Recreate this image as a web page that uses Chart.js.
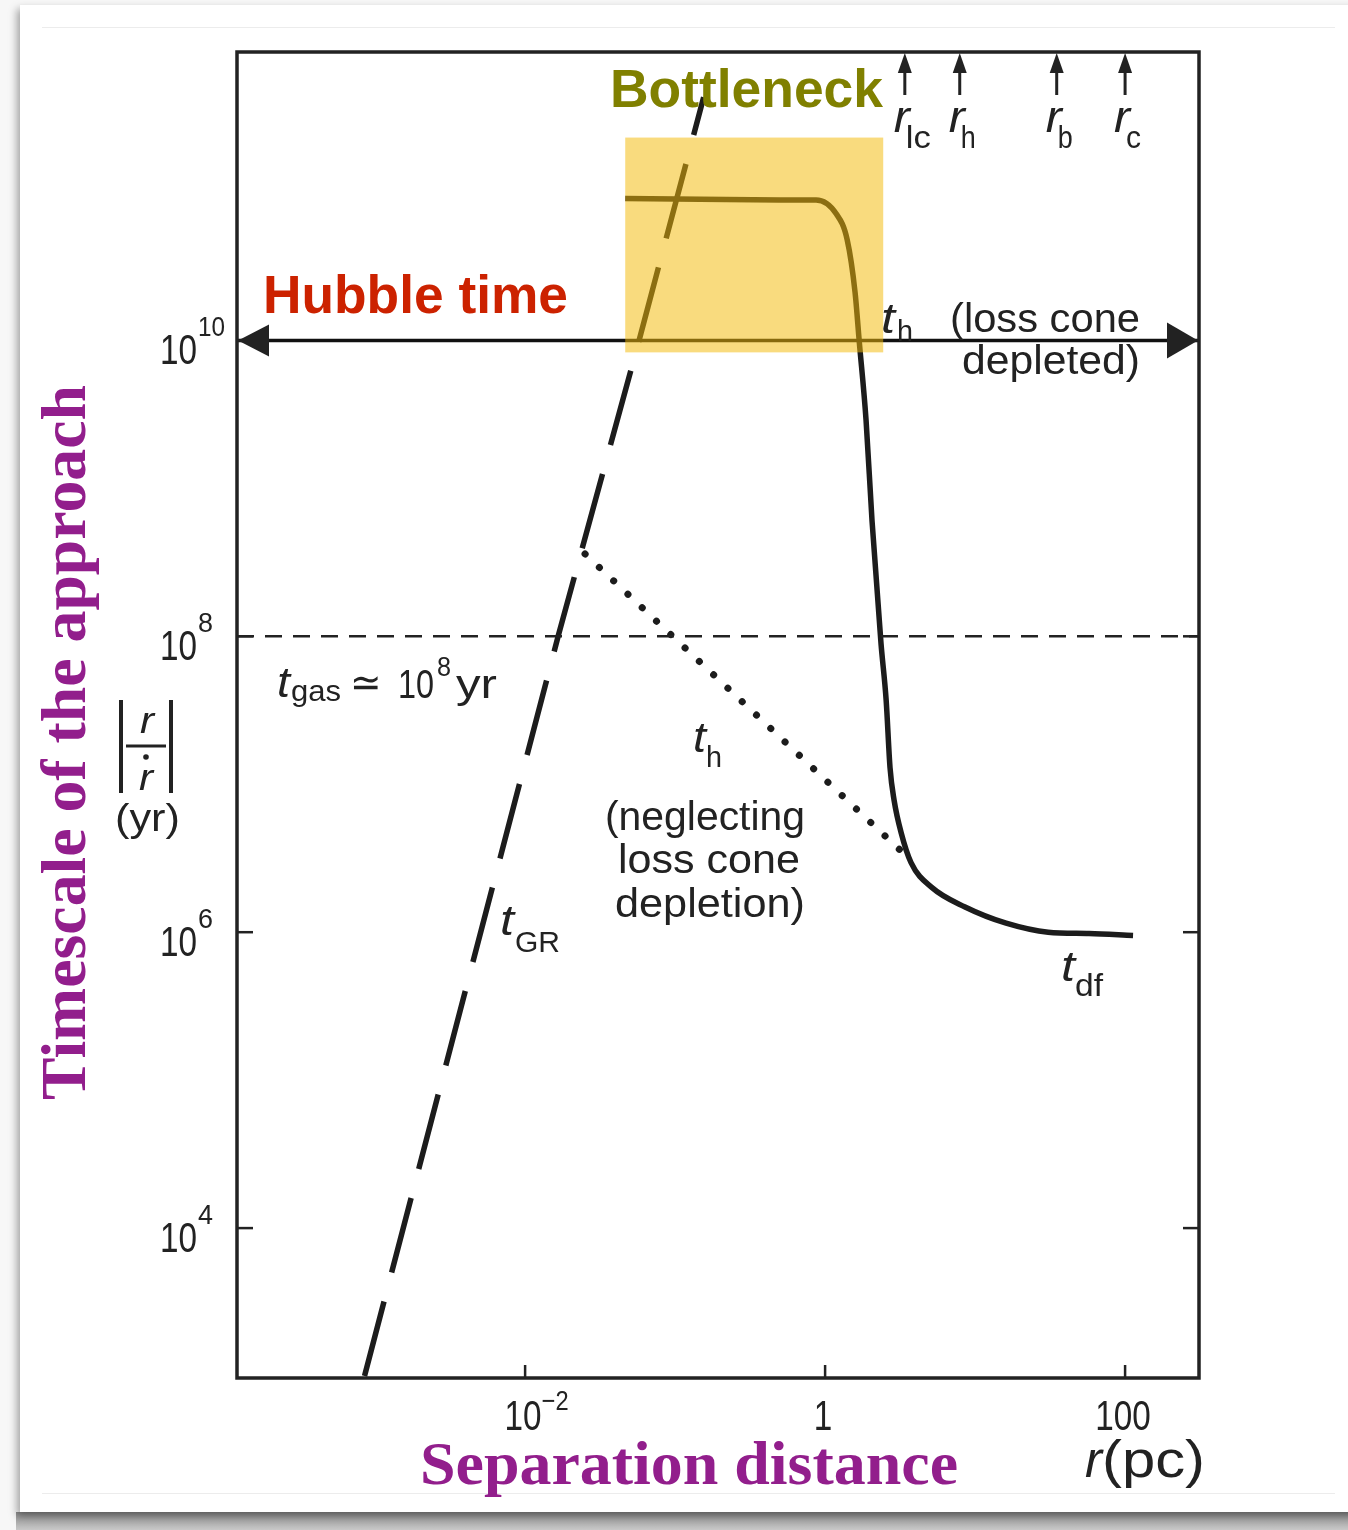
<!DOCTYPE html>
<html>
<head>
<meta charset="utf-8">
<script src="https://cdn.jsdelivr.net/npm/chart.js@4"></script>
<style>
  body { margin: 0; width: 1348px; height: 1530px; position: relative; overflow: hidden; background: #f7f7f7; }
  #card { position: absolute; left: 20px; top: 5px; width: 1360px; height: 1507px; background: #fff;
          box-shadow: -3px 4px 8px rgba(0,0,0,0.35); }
  #shade { position: absolute; left: 16px; top: 1512px; width: 1340px; height: 18px;
           background: linear-gradient(to bottom, #8c8c8c, #c8c8c8); }
  #rule { position: absolute; left: 42px; top: 27px; width: 1293px; height: 1465px;
          border-top: 1px solid #ececec; border-bottom: 1px solid #ececec; }
  canvas { position: absolute; left: 0; top: 0; }
</style>
</head>
<body>
<div id="shade"></div>
<div id="card"></div>
<div id="rule"></div>
<canvas id="timescaleChart" width="1348" height="1530"></canvas>
<script>
// axis ranges and ticks
const rRange = [1.2e-4, 311];
const tRange = [970, 8.9e11];
const rTicks = [1e-2, 1, 100];
const rTickLabels = [['10', '\u22122'], ['1', ''], ['100', '']];
const tTicks = [1e4, 1e6, 1e8, 1e10];
const tTickLabels = [['10', '4'], ['10', '6'], ['10', '8'], ['10', '10']];

// gravitational wave timescale t_GR (dashed)
const grR = [8.5e-4, 0.0166, 0.0575, 0.155];
const grT = [1e3, 1e8, 1e10, 4.4e11];

// hardening with loss cone depleted, then dynamical friction (solid)
const hardR = [0.0465, 0.147, 0.501, 0.871, 1.183, 1.403, 1.585, 1.687, 1.875, 2.056, 2.36,
               2.553, 2.71, 2.884, 3.214, 3.741, 5.164, 8.57, 16.1, 30.7, 57.5, 113];
const hardT = [9.1e10, 9.0e10, 8.9e10, 8.9e10, 7.2e10, 4.8e10, 2.1e10, 1.0e10, 2.9e9, 6.0e8, 8.9e7,
               3.7e7, 1.29e7, 7.8e6, 4.7e6, 2.95e6, 2.0e6, 1.48e6, 1.15e6, 1.0e6, 9.8e5, 9.5e5];

// hardening neglecting loss cone depletion (dotted)
const fullR = [0.0251, 3.69];
const fullT = [3.6e8, 3.1e6];

const hubbleTime = 1e10;
const gasTime = 1e8;

// characteristic radii marked on top
const radii = [3.4, 7.9, 35, 100];
const radiiNames = ['lc', 'h', 'b', 'c'];

// bottleneck box
const boxR = [0.0465, 2.44];
const boxT = [8.3e9, 2.35e11];

const ink = '#222222';
const purple = '#921e8c';

function pts(xs, ys) {
    return xs.map((v, i) => ({ x: v, y: ys[i] }));
}

function put(ctx, s, x, y, size, opt = {}) {
    ctx.save();
    ctx.font = (opt.style || '') + ' ' + size + 'px ' + (opt.family || '"Liberation Sans", Arial, sans-serif');
    ctx.fillStyle = opt.color || ink;
    ctx.textBaseline = 'alphabetic';
    const w = ctx.measureText(s).width;
    let sx = opt.sx || 1;
    if (opt.width) sx = opt.width / w;
    let x0 = x;
    if (opt.align === 'center') x0 = x - w * sx / 2;
    else if (opt.align === 'right') x0 = x - w * sx;
    ctx.translate(x0, y);
    if (opt.rotate) ctx.rotate(opt.rotate);
    ctx.scale(sx, 1);
    ctx.fillText(s, 0, 0);
    ctx.restore();
    return x0 + w * sx;
}

function line(ctx, x1, y1, x2, y2, w) {
    ctx.beginPath();
    ctx.lineWidth = w;
    ctx.moveTo(x1, y1);
    ctx.lineTo(x2, y2);
    ctx.stroke();
}

function tri(ctx, a, b, c) {
    ctx.beginPath();
    ctx.moveTo(a[0], a[1]);
    ctx.lineTo(b[0], b[1]);
    ctx.lineTo(c[0], c[1]);
    ctx.closePath();
    ctx.fill();
}

const decor = {
    id: 'decor',
    afterDatasetsDraw(chart) {
        const { ctx, chartArea: a, scales: { x, y } } = chart;
        ctx.save();
        ctx.strokeStyle = ink;
        ctx.fillStyle = ink;
        ctx.lineCap = 'butt';

        // frame
        ctx.lineWidth = 3.5;
        ctx.strokeRect(a.left, a.top, a.right - a.left, a.bottom - a.top);

        // inward ticks
        rTicks.forEach(v => {
            const px = x.getPixelForValue(v);
            line(ctx, px, a.bottom, px, a.bottom - 13, 2.5);
        });
        tTicks.forEach(v => {
            const py = y.getPixelForValue(v);
            line(ctx, a.left, py, a.left + 16, py, 2.5);
            line(ctx, a.right - 16, py, a.right, py, 2.5);
        });

        // Hubble time arrowheads
        const hy = y.getPixelForValue(hubbleTime);
        tri(ctx, [a.left + 1, hy], [a.left + 32, hy - 16], [a.left + 32, hy + 16]);
        tri(ctx, [a.right - 1, hy], [a.right - 32, hy - 18], [a.right - 32, hy + 18]);

        // radius arrows
        radii.forEach((v, i) => {
            const px = x.getPixelForValue(v);
            line(ctx, px, a.top + 10, px, a.top + 43, 3);
            tri(ctx, [px, a.top + 1], [px - 7, a.top + 21], [px + 7, a.top + 21]);
            put(ctx, 'r', px - 11, a.top + 80, 44, { style: 'italic', width: 16 });
            put(ctx, radiiNames[i], px + 1, a.top + 96, 32, { width: radiiNames[i].length > 1 ? 25 : 15 });
        });

        // bottleneck highlight
        const bx0 = x.getPixelForValue(boxR[0]), bx1 = x.getPixelForValue(boxR[1]);
        const by0 = y.getPixelForValue(boxT[1]), by1 = y.getPixelForValue(boxT[0]);
        ctx.fillStyle = 'rgba(243, 186, 7, 0.52)';
        ctx.fillRect(bx0, by0, bx1 - bx0, by1 - by0);
        ctx.fillStyle = ink;

        // tick labels
        tTicks.forEach((v, i) => {
            const py = y.getPixelForValue(v);
            const end = put(ctx, tTickLabels[i][0], 197, py + 24, 42, { align: 'right', width: 37 });
            const e = tTickLabels[i][1];
            put(ctx, e, end + 1, py - 4, 28, { width: e.length > 1 ? 27 : 15 });
        });
        rTicks.forEach((v, i) => {
            const px = x.getPixelForValue(v);
            const b = rTickLabels[i][0];
            const end = put(ctx, b, px - 2, 1430, 42, { align: 'center', width: b.length * 18.5 });
            if (rTickLabels[i][1]) put(ctx, rTickLabels[i][1], end, 1410, 28, { width: 27 });
        });

        // annotations
        put(ctx, 't', 881, 333, 42, { style: 'italic', width: 14 });
        put(ctx, 'h', 897, 341, 30, { width: 16 });
        put(ctx, '(loss cone', 950, 332, 41, { width: 190 });
        put(ctx, 'depleted)', 962, 374, 41, { width: 178 });

        put(ctx, 't', 277, 697, 42, { style: 'italic', width: 13 });
        put(ctx, 'gas', 291, 701, 30, { width: 50 });
        put(ctx, '\u2243', 350, 696, 40, { width: 32 });
        put(ctx, '10', 398, 698, 40, { width: 36 });
        put(ctx, '8', 437, 676, 28, { width: 14 });
        put(ctx, 'yr', 456, 698, 40, { width: 41 });

        put(ctx, 't', 693, 752, 42, { style: 'italic', width: 13 });
        put(ctx, 'h', 706, 767, 30, { width: 16 });
        put(ctx, '(neglecting', 605, 830, 41, { width: 200 });
        put(ctx, 'loss cone', 618, 873, 41, { width: 182 });
        put(ctx, 'depletion)', 615, 917, 41, { width: 190 });

        put(ctx, 't', 500, 935, 42, { style: 'italic', width: 14 });
        put(ctx, 'GR', 515, 952, 30, { width: 45 });

        put(ctx, 't', 1061, 981, 42, { style: 'italic', width: 14 });
        put(ctx, 'df', 1075, 996, 32, { width: 28 });

        // |r / r-dot| (yr)
        line(ctx, 121, 700, 121, 793, 4);
        line(ctx, 171, 700, 171, 793, 4);
        put(ctx, 'r', 147, 733, 36, { style: 'italic', align: 'center', width: 14 });
        line(ctx, 126, 746, 166, 746, 3);
        ctx.fillStyle = ink;
        ctx.beginPath();
        ctx.arc(146, 757, 2.8, 0, Math.PI * 2);
        ctx.fill();
        put(ctx, 'r', 146, 790, 36, { style: 'italic', align: 'center', width: 14 });
        put(ctx, '(yr)', 115, 831, 38, { width: 65 });

        put(ctx, 'r', 1085, 1477, 52, { style: 'italic', width: 17 });
        put(ctx, '(pc)', 1102, 1477, 52, { width: 103 });

        // headline labels
        put(ctx, 'Bottleneck', 610, 107, 53, { style: 'bold', color: '#808000', width: 273 });
        put(ctx, 'Hubble time', 263, 313, 53, { style: 'bold', color: '#cc2200', width: 305 });
        put(ctx, 'Separation distance', 420, 1484, 62,
            { style: 'bold', family: '"Liberation Serif", "Times New Roman", serif', color: purple, width: 538 });
        put(ctx, 'Timescale of the approach', 85, 1100, 63,
            { style: 'bold', family: '"Liberation Serif", "Times New Roman", serif', color: purple,
              width: 715, rotate: -Math.PI / 2 });

        ctx.restore();
    }
};

const ctx = document.getElementById('timescaleChart').getContext('2d');

new Chart(ctx, {
    type: 'scatter',
    data: {
        datasets: [
            {
                data: pts(rRange, [gasTime, gasTime]),
                showLine: true, borderColor: ink, borderWidth: 2.5, borderDash: [17, 11], pointRadius: 0
            },
            {
                data: pts(rRange, [hubbleTime, hubbleTime]),
                showLine: true, borderColor: '#111', borderWidth: 3.5, pointRadius: 0
            },
            {
                data: pts(grR, grT),
                showLine: true, borderColor: '#1c1c1c', borderWidth: 5.5, borderDash: [77, 30], pointRadius: 0
            },
            {
                data: pts(fullR, fullT),
                showLine: true, borderColor: '#1c1c1c', borderWidth: 7, borderDash: [0.1, 19.5],
                borderCapStyle: 'round', pointRadius: 0
            },
            {
                data: pts(hardR, hardT),
                showLine: true, borderColor: '#1c1c1c', borderWidth: 5.5, pointRadius: 0,
                cubicInterpolationMode: 'monotone'
            }
        ]
    },
    options: {
        responsive: false,
        animation: false,
        layout: { padding: { left: 237, top: 52, right: 149, bottom: 152 } },
        plugins: {
            legend: { display: false },
            tooltip: { enabled: false }
        },
        scales: {
            x: { type: 'logarithmic', min: rRange[0], max: rRange[1], display: false },
            y: { type: 'logarithmic', min: tRange[0], max: tRange[1], display: false }
        }
    },
    plugins: [decor]
});
</script>
</body>
</html>
